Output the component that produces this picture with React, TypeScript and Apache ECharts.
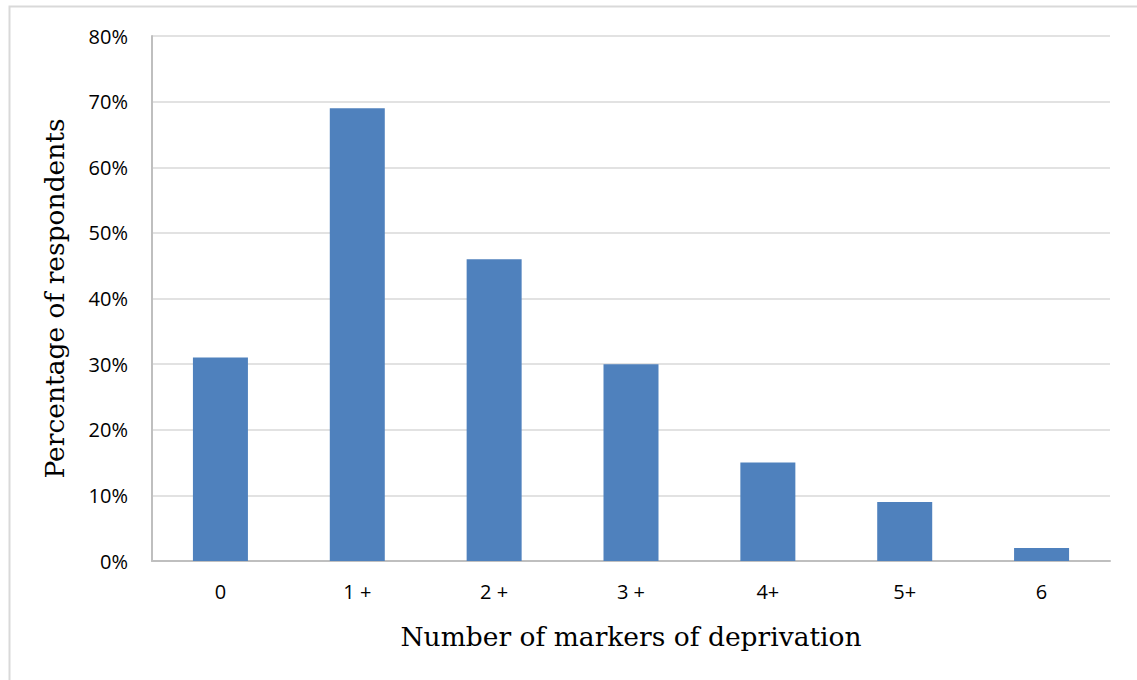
import React, { useEffect, useRef } from "react";
import * as echarts from "echarts";

const categories = ["0", "1 +", "2 +", "3 +", "4+", "5+", "6"];
const values = [31, 69, 46, 30, 15, 9, 2];
const yTicks = [0, 10, 20, 30, 40, 50, 60, 70, 80];
const xTitle = "Number of markers of deprivation";
const yTitle = "Percentage of respondents";

export default function App() {
  const ref = useRef<HTMLDivElement>(null);
  useEffect(() => {
    if (!ref.current) return;
    const chart = echarts.init(ref.current, null, { renderer: "svg" });
    chart.setOption({
      animation: false,
      backgroundColor: "#ffffff",
      graphic: [
        {
          type: "rect",
          shape: { x: 9.5, y: 6.5, width: 1140, height: 690 },
          style: { fill: "none", stroke: "#d9d9d9", lineWidth: 2 },
          silent: true,
        },
      ],
      grid: { left: 152, right: 27, top: 36, bottom: 119, containLabel: false },
      xAxis: {
        type: "category",
        data: categories,
        name: xTitle,
        nameLocation: "middle",
        nameGap: 62,
        nameTextStyle: { fontFamily: "DejaVu Serif", fontSize: 26.5, color: "#000" },
        axisLine: { lineStyle: { color: "#bfbfbf", width: 2 } },
        axisTick: { show: false },
        axisLabel: { fontFamily: "Open Sans", fontSize: 20, color: "#000", margin: 20 },
      },
      yAxis: {
        type: "value",
        min: yTicks[0],
        max: yTicks[yTicks.length - 1],
        interval: 10,
        name: yTitle,
        nameLocation: "middle",
        nameGap: 84,
        nameTextStyle: { fontFamily: "DejaVu Serif", fontSize: 26.5, color: "#000" },
        axisLine: { show: true, lineStyle: { color: "#bfbfbf", width: 2 } },
        axisTick: { show: false },
        splitLine: { lineStyle: { color: "#d9d9d9", width: 1.5 } },
        axisLabel: {
          fontFamily: "Open Sans",
          fontSize: 20,
          color: "#000",
          margin: 24,
          formatter: (v: number) => v + "%",
        },
      },
      series: [
        {
          type: "bar",
          data: values,
          barWidth: 55,
          itemStyle: { color: "#4f81bd" },
        },
      ],
    });
    return () => chart.dispose();
  }, []);
  return (
    <div
      ref={ref}
      style={{ position: "fixed", left: 0, top: 0, width: 1137, height: 680 }}
    />
  );
}
